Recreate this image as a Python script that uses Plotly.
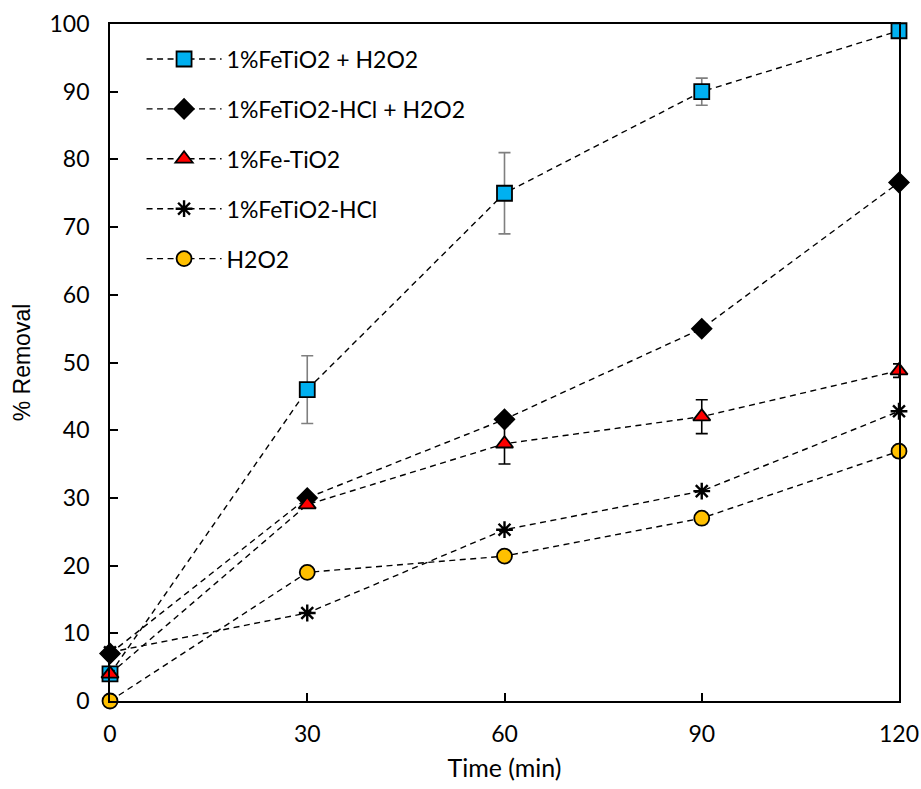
import plotly.graph_objects as go

# Reaction time (min)
time_min = [0, 30, 60, 90, 120]

# % removal for each treatment
fetio2_h2o2 = [4, 46, 75, 90, 99]
fetio2_h2o2_err = [0, 5, 6, 2, 0]

fetio2_hcl_h2o2 = [7, 30, 41.6, 55, 76.6]

fe_tio2 = [4, 29, 38, 42, 48.8]
fe_tio2_err = [0, 0, 3, 2.5, 1]

fetio2_hcl = [7.2, 13, 25.3, 31, 42.8]

h2o2_only = [0, 19, 21.4, 27, 36.9]

x_ticks = [0, 30, 60, 90, 120]
y_ticks = [0, 10, 20, 30, 40, 50, 60, 70, 80, 90, 100]

TICK_FONT = "Lato"
DASH = "6px,4.5px"

fig = go.Figure()


def add_series(name, y, symbol, fill, size, err=None, err_color="#7f7f7f", lw=1.8):
    error_y = None
    if err is not None:
        error_y = dict(type="data", array=err, visible=True, color=err_color,
                       thickness=1.6, width=6)
    fig.add_trace(go.Scatter(
        x=time_min, y=y, name=name, mode="lines+markers",
        line=dict(color="black", width=1.4, dash=DASH),
        marker=dict(symbol=symbol, size=size, color=fill,
                    line=dict(color="black", width=lw)),
        error_y=error_y, cliponaxis=False, legendgroup=name,
    ))


add_series("1%FeTiO2 + H2O2", fetio2_h2o2, "square", "#00B0F0", 15, fetio2_h2o2_err)
add_series("1%FeTiO2-HCl + H2O2", fetio2_hcl_h2o2, "diamond", "black", 15)
add_series("1%Fe-TiO2", fe_tio2, "triangle-up", "#FF0000", 15, fe_tio2_err, err_color="black")
add_series("1%FeTiO2-HCl", fetio2_hcl, "asterisk-open", "black", 14, lw=2.4)
add_series("H2O2", h2o2_only, "circle", "#FFC000", 15)

axis_common = dict(
    showline=True, linecolor="black", linewidth=1.8, mirror=True,
    ticks="inside", ticklen=8, tickwidth=1.6, tickcolor="black",
    showgrid=False, zeroline=False, automargin=False,
    tickfont=dict(family=TICK_FONT, size=23, color="black"),
)

fig.update_xaxes(
    range=[0, 120], tickvals=x_ticks, ticklabelstandoff=11,
    title=dict(text="Time (min)", font=dict(family=TICK_FONT, size=25, color="black"),
               standoff=14),
    **axis_common,
)
fig.update_yaxes(
    range=[0, 100], tickvals=y_ticks, ticklabelstandoff=14,
    title=dict(text="% Removal", font=dict(family="Liberation Sans", size=23, color="black"),
               standoff=12),
    **axis_common,
)

fig.update_layout(
    width=921, height=789,
    margin=dict(l=110, r=22, t=24, b=88),
    plot_bgcolor="white", paper_bgcolor="white",
    showlegend=True,
    legend=dict(
        x=0.04, y=0.98, xanchor="left", yanchor="top",
        bgcolor="rgba(0,0,0,0)", borderwidth=0,
        font=dict(family=TICK_FONT, size=23, color="black"),
        tracegroupgap=17, itemwidth=75,
    ),
)

fig.write_html("out.html")
